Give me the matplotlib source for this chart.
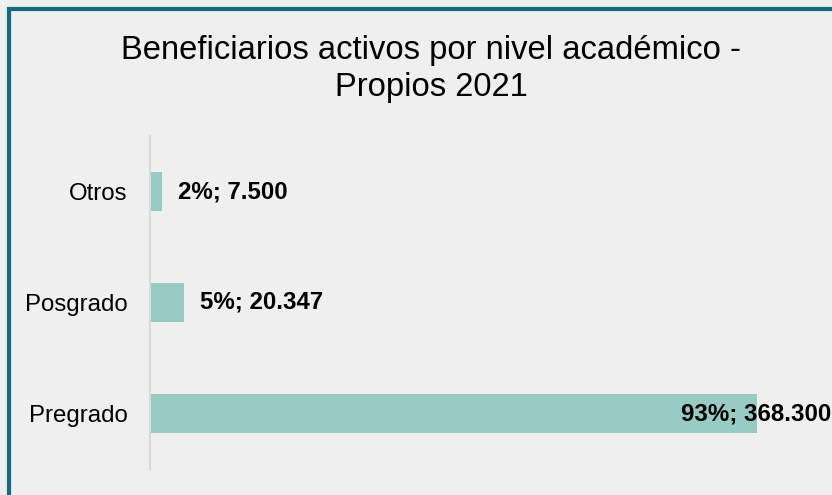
import matplotlib.pyplot as plt
from matplotlib.patches import Rectangle

categorias = ['Pregrado', 'Posgrado', 'Otros']
valores = [368300, 20347, 7500]
porcentajes = ['93%', '5%', '2%']
valores_txt = ['368.300', '20.347', '7.500']
# desplazamiento de la etiqueta respecto al final de la barra (px)
desplaz = [-76, 16, 16]

plt.rcParams['font.family'] = ['Liberation Sans', 'DejaVu Sans']

W, H = 832, 495
fig = plt.figure(figsize=(W / 100, H / 100), dpi=100)
fig.patch.set_facecolor('#EFEFEF')

# marco del grafico (solo se ven los lados izquierdo y superior)
fig.patches.append(Rectangle((9 / W, -0.2), 1.5, 1.2 - 9 / H, transform=fig.transFigure,
                             fill=False, edgecolor='#156B7A', linewidth=3.0, zorder=10))

ax = fig.add_axes([150 / W, (H - 469) / H, 660 / W, 333 / H])
ax.set_facecolor('#EFEFEF')

y = range(len(categorias))
ax.barh(y, valores, height=0.35, color='#98CBC3', zorder=2)
ax.set_xlim(0, 368300 * 660 / 607)
ax.set_ylim(-0.5, len(categorias) - 0.5)
ax.set_yticks(list(y))
ax.set_yticklabels(categorias, fontsize=17.3)
ax.tick_params(axis='y', length=0, pad=16)
ax.set_xticks([])
for s in ['top', 'right', 'bottom']:
    ax.spines[s].set_visible(False)
ax.spines['left'].set_color('#D9D9D9')
ax.spines['left'].set_linewidth(1.5)

for i, (v, p, t, d) in enumerate(zip(valores, porcentajes, valores_txt, desplaz)):
    ax.annotate(f'{p}; {t}', (v, i), xytext=(d, 0), textcoords='offset pixels',
                ha='left', va='center', fontsize=17.3, fontweight='bold',
                annotation_clip=False, zorder=3)

fig.text(431 / W, 1 - 69 / H, 'Beneficiarios activos por nivel académico -\nPropios 2021',
         ha='center', va='center', fontsize=23.6, linespacing=1.27)

fig.savefig('out.png', dpi=100, facecolor=fig.get_facecolor())
